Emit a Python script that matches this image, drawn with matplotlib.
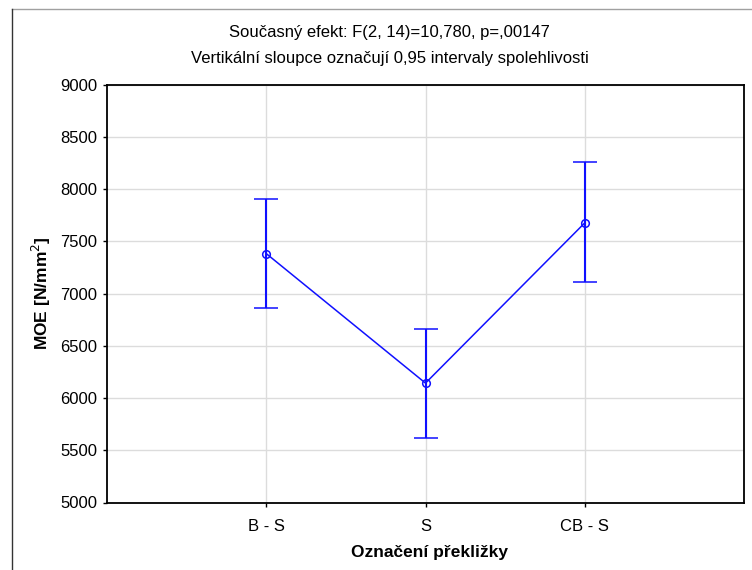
import matplotlib.pyplot as plt
from matplotlib.lines import Line2D

plt.rcParams['font.family'] = ['Liberation Sans', 'DejaVu Sans']

# skupiny a průměry MOE s 95% intervaly spolehlivosti
groups = ['B - S', 'S', 'CB - S']
moe_mean = [7383, 6143, 7677]
ci_low = [6866, 5619, 7112]
ci_high = [7906, 6662, 8257]

line_blue = '#1010ff'
grid_color = '#dcdcdc'

fig = plt.figure(figsize=(7.52, 5.70), dpi=100)
fig.patch.set_facecolor('white')
ax = fig.add_axes([107 / 752, 1 - 502.5 / 570, 637 / 752, (502.5 - 84.7) / 570])

xs = list(range(1, len(groups) + 1))
err_low = [m - lo for m, lo in zip(moe_mean, ci_low)]
err_high = [hi - m for m, hi in zip(moe_mean, ci_high)]

ax.errorbar(xs, moe_mean, yerr=[err_low, err_high], color=line_blue,
            linewidth=1.1, elinewidth=1.5, capsize=8.5, capthick=1.5,
            marker='o', markersize=5.5, markerfacecolor='none',
            markeredgecolor=line_blue, markeredgewidth=1.1, zorder=3)

ax.set_xlim(0, 4)
ax.set_ylim(5000, 9000)
ax.set_xticks(xs)
ax.set_xticklabels(groups)
ax.set_yticks(range(5000, 9001, 500))
ax.grid(True, color=grid_color, linewidth=1.0, zorder=0)
ax.set_axisbelow(True)
ax.tick_params(axis='both', direction='out', length=3, width=1,
               labelsize=12, colors='black')
ax.tick_params(axis='x', pad=9)
ax.tick_params(axis='y', pad=4)

for spine in ax.spines.values():
    spine.set_linewidth(1.3)
    spine.set_color('black')

ax.set_xlabel('Označení překližky', fontsize=12.5, fontweight='bold')
ax.xaxis.set_label_coords(0.507, -0.102)
ax.set_ylabel('MOE [N/mm$^2$]', fontsize=12.5, fontweight='bold', labelpad=5.5)

fig.text(389 / 752, 1 - 32 / 570, 'Současný efekt: F(2, 14)=10,780, p=,00147',
         ha='center', va='center', fontsize=12)
fig.text(390 / 752, 1 - 58 / 570, 'Vertikální sloupce označují 0,95 intervaly spolehlivosti',
         ha='center', va='center', fontsize=12)

# rámeček okolo grafu
fig.add_artist(Line2D([12 / 752, 1], [1 - 9 / 570, 1 - 9 / 570], color='#a0a0a0', linewidth=1))
fig.add_artist(Line2D([12 / 752, 12 / 752], [0, 1 - 9 / 570], color='#333333', linewidth=1))

plt.savefig('out.png', facecolor=fig.get_facecolor())
